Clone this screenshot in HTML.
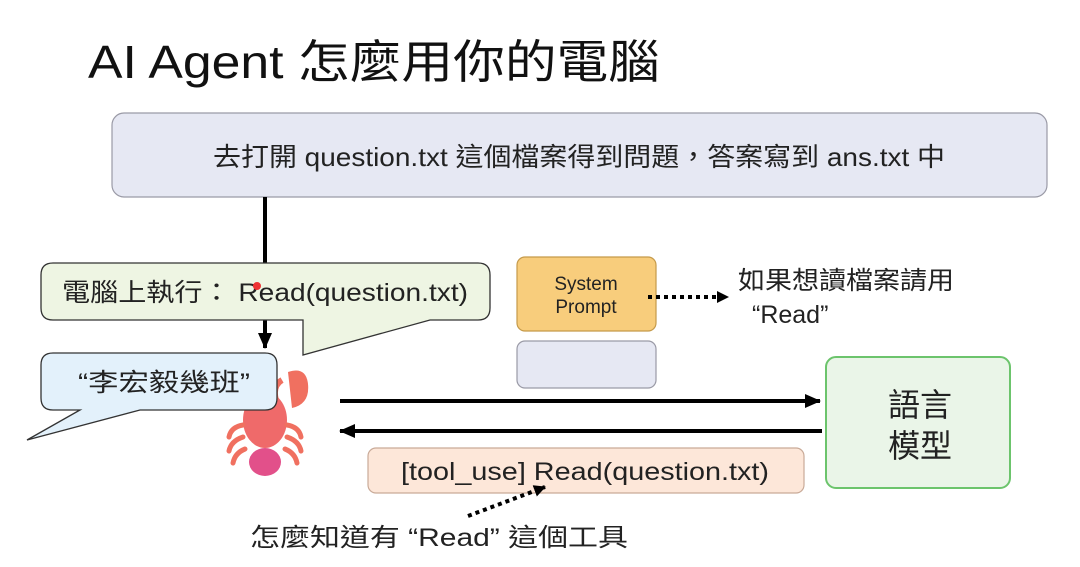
<!DOCTYPE html>
<html><head><meta charset="utf-8"><style>
html,body{margin:0;padding:0;background:#fff;width:1080px;height:567px;overflow:hidden}
svg{display:block}
text{font-family:"Liberation Sans","Noto Sans CJK TC",sans-serif;fill:#222}
</style></head><body>
<svg width="1080" height="567" viewBox="0 0 1080 567" xmlns="http://www.w3.org/2000/svg">
<defs>
<marker id="ah" markerWidth="12" markerHeight="12" refX="11" refY="6" orient="auto" markerUnits="userSpaceOnUse"><path d="M0,0 L12,6 L0,12 z" fill="#000"/></marker>
<marker id="ah2" markerWidth="16" markerHeight="16" refX="15" refY="8" orient="auto" markerUnits="userSpaceOnUse"><path d="M0,1 L16,8 L0,15 z" fill="#000"/></marker>
</defs>
<text x="88" y="78" font-size="46" textLength="572" lengthAdjust="spacingAndGlyphs" style="fill:#111">AI Agent 怎麼用你的電腦</text>
<rect x="112" y="113" width="935" height="84" rx="12" fill="#e6e8f3" stroke="#9a9aa6" stroke-width="1.2"/>
<text x="213" y="166" font-size="26" textLength="732" lengthAdjust="spacingAndGlyphs">去打開 question.txt 這個檔案得到問題，答案寫到 ans.txt 中</text>
<line x1="265" y1="197" x2="265" y2="348" stroke="#000" stroke-width="4" marker-end="url(#ah2)"/>
<path d="M53,263 H478 Q490,263 490,275 V308 Q490,320 478,320 H430 L303,355 V320 H53 Q41,320 41,308 V275 Q41,263 53,263 Z" fill="#eef5e3" stroke="#333" stroke-width="1.3"/>
<text x="62" y="301" font-size="25" textLength="406" lengthAdjust="spacingAndGlyphs">電腦上執行： Read(question.txt)</text>
<circle cx="257" cy="286" r="4" fill="#e33"/>
<g>
<ellipse cx="265" cy="420" rx="22" ry="28" fill="#ef6a6a"/>
<ellipse cx="265" cy="462" rx="16" ry="14" fill="#e2508a"/>
<path d="M288,372 q18,-6 20,12 q2,20 -16,24 z" fill="#f07060"/>
<path d="M282,380 q-10,6 -6,20" stroke="#f07060" stroke-width="6" fill="none"/>
<g stroke="#f07060" stroke-width="5" fill="none" stroke-linecap="round">
<path d="M243,425 q-12,2 -14,12"/><path d="M243,437 q-12,4 -14,14"/><path d="M245,449 q-10,4 -12,14"/>
<path d="M287,425 q12,2 14,12"/><path d="M287,437 q12,4 14,14"/><path d="M285,449 q10,4 12,14"/>
</g>
</g>
<path d="M53,353 H265 Q277,353 277,365 V398 Q277,410 265,410 H140 L27,440 L80,410 H53 Q41,410 41,398 V365 Q41,353 53,353 Z" fill="#e3f1fb" stroke="#333" stroke-width="1.3"/>
<text x="78" y="391" font-size="25" textLength="172" lengthAdjust="spacingAndGlyphs">“李宏毅幾班”</text>
<rect x="517" y="257" width="139" height="74" rx="8" fill="#f8cd7c" stroke="#c59a4a" stroke-width="1.2"/>
<text x="586" y="290" font-size="19" text-anchor="middle">System</text>
<text x="586" y="313" font-size="19" text-anchor="middle">Prompt</text>
<rect x="517" y="341" width="139" height="47" rx="8" fill="#e6e8f3" stroke="#9a9aa6" stroke-width="1.2"/>
<line x1="648" y1="297" x2="728" y2="297" stroke="#000" stroke-width="4" stroke-dasharray="4,4" marker-end="url(#ah)"/>
<text x="738" y="289" font-size="25" textLength="216" lengthAdjust="spacingAndGlyphs">如果想讀檔案請用</text>
<text x="752" y="323" font-size="25">“Read”</text>
<line x1="340" y1="401" x2="820" y2="401" stroke="#000" stroke-width="4" marker-end="url(#ah2)"/>
<line x1="822" y1="431" x2="340" y2="431" stroke="#000" stroke-width="4" marker-end="url(#ah2)"/>
<rect x="826" y="357" width="184" height="131" rx="10" fill="#eaf5e8" stroke="#6cc46c" stroke-width="2"/>
<text x="920" y="416" font-size="32" text-anchor="middle">語言</text>
<text x="920" y="457" font-size="32" text-anchor="middle">模型</text>
<rect x="368" y="448" width="436" height="45" rx="8" fill="#fde7d9" stroke="#c9aa98" stroke-width="1.2"/>
<text x="401" y="480" font-size="25" textLength="368" lengthAdjust="spacingAndGlyphs">[tool_use] Read(question.txt)</text>
<line x1="468" y1="516" x2="545" y2="487" stroke="#000" stroke-width="4" stroke-dasharray="4,4" marker-end="url(#ah)"/>
<text x="250" y="546" font-size="25" textLength="378" lengthAdjust="spacingAndGlyphs">怎麼知道有  “Read”  這個工具</text>
</svg>
</body></html>
